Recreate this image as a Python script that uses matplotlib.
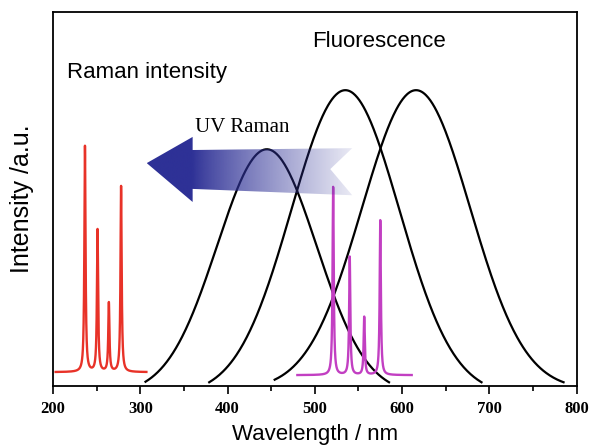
import numpy as np
import matplotlib
matplotlib.use("Agg")
import matplotlib.pyplot as plt
from matplotlib.patches import Polygon
from matplotlib.ticker import MultipleLocator

# fluorescence bands: centre (nm), height (a.u.), width (nm), drawn range (nm)
fl_center = [445, 535, 616]
fl_height = [62.3, 78.1, 78.1]
fl_sigma = [57, 62, 62]
fl_start = [306, 379, 454]
fl_stop = [585, 691, 785]

# UV Raman lines (red) and visible Raman lines (magenta)
uv_pos = [236.6, 251, 264, 278]
uv_height = [60.4, 38.0, 18.4, 49.7]
uv_base = 3.7
uv_range = (203, 307)

vis_pos = [521, 540, 556.6, 575]
vis_height = [50.3, 31.6, 15.5, 41.4]
vis_base = 2.9
vis_range = (480, 611)

sans = ["Liberation Sans", "DejaVu Sans"]
serif = ["Liberation Serif", "DejaVu Serif"]

fig = plt.figure(figsize=(5.89, 4.45), dpi=100)
ax = fig.add_axes([0.090, 0.1326, 0.889, 0.8404])
ax.set_xlim(200, 800)
ax.set_ylim(0, 100)


def lorentz_lines(x, pos, hgt, base, gamma=0.8):
    y = np.full_like(x, base)
    for p, h in zip(pos, hgt):
        y += h * gamma**2 / ((x - p)**2 + gamma**2)
    return y


for c, h, s, a, b in zip(fl_center, fl_height, fl_sigma, fl_start, fl_stop):
    x = np.linspace(a, b, 400)
    g = np.exp(-(x - c)**2 / (2 * s**2))
    g_end = np.exp(-max(c - a, b - c)**2 / (2 * s**2))
    y = h * (g - g_end) / (1 - g_end) + 1.0
    ax.plot(x, y, color="black", lw=1.6, zorder=2)

x = np.linspace(*uv_range, 3000)
ax.plot(x, lorentz_lines(x, uv_pos, uv_height, uv_base), color="#e83228", lw=1.7, zorder=3)
x = np.linspace(*vis_range, 3000)
ax.plot(x, lorentz_lines(x, vis_pos, vis_height, vis_base), color="#c23fc2", lw=1.7, zorder=3)

# gradient arrow (data coords)
arrow_pts = [(307.4, 59.6), (360, 66.6), (360, 63.1), (542.9, 63.6), (517.7, 58.0),
             (542.9, 51.0), (360, 52.7), (360, 49.2)]
arrow = Polygon(arrow_pts, closed=True, facecolor="none", edgecolor="none")
ax.add_patch(arrow)
nx = 300
t = np.clip((np.linspace(307.4, 542.9, nx) - 360) / (542.9 - 360), 0, 1)
alpha = 1 - 0.9 * t**0.85
img = np.zeros((2, nx, 4))
img[..., 0] = 46 / 255
img[..., 1] = 49 / 255
img[..., 2] = 150 / 255
img[..., 3] = alpha
im = ax.imshow(img, extent=(307.4, 542.9, 49.2, 66.6), aspect="auto",
               interpolation="bilinear", zorder=4)
im.set_clip_path(arrow)

ax.text(417, 69, "UV Raman", family=serif, fontsize=15, ha="center", va="center")
ax.text(573.5, 92, "Fluorescence", family=sans, fontsize=16, ha="center", va="center")
ax.text(216, 83.7, "Raman intensity", family=sans, fontsize=16, ha="left", va="center")

ax.set_xlabel("Wavelength / nm", family=sans, fontsize=16, labelpad=5)
ax.set_ylabel("Intensity /a.u.", family=sans, fontsize=18, labelpad=14)
ax.set_yticks([])
ax.xaxis.set_major_locator(MultipleLocator(100))
ax.xaxis.set_minor_locator(MultipleLocator(50))
ax.tick_params(axis="x", which="major", direction="out", length=6, width=1.2, pad=5)
ax.tick_params(axis="x", which="minor", direction="out", length=3.5, width=1.2)
for lab in ax.get_xticklabels():
    lab.set_family(serif)
    lab.set_fontweight("bold")
    lab.set_fontsize(12)
for sp in ax.spines.values():
    sp.set_linewidth(1.3)

fig.savefig("out.png", dpi=100)
